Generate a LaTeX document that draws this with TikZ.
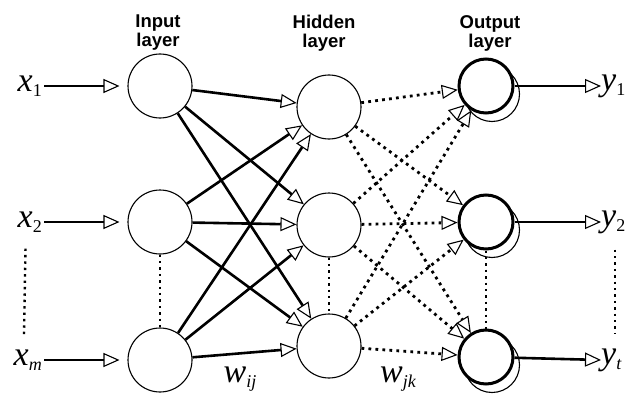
\documentclass[tikz,border=0pt]{standalone}
\usepackage{fontspec}
\newfontfamily\layerfont{Liberation Sans}
\newfontfamily\symfont{Liberation Serif}
\newcommand\varlab[2]{{\symfont\itshape #1}\raisebox{-0.15em}{\symfont\fontsize{18}{18}\selectfont #2}}
\usetikzlibrary{arrows.meta}
\begin{document}
\begin{tikzpicture}[x=1pt,y=-1pt,
    >={Triangle[open,length=16pt,width=14pt,line width=1.1pt]},
    neuron/.style={circle,draw,line width=1.1pt,minimum size=64pt,inner sep=0pt,fill=white},
    outneuron/.style={circle,draw,line width=3pt,minimum size=54pt,inner sep=0pt,fill=white},
    shadowring/.style={circle,draw,line width=1.1pt,minimum size=55pt,inner sep=0pt},
    wire/.style={->,line width=2.6pt},
    dotwire/.style={->,line width=2.8pt,dash pattern=on 2.8pt off 4.2pt},
    vdots/.style={line width=2.4pt,dash pattern=on 2.4pt off 4pt},
    title/.style={align=center,inner sep=0pt,font=\layerfont\bfseries\fontsize{18.5}{19}\selectfont},
    sym/.style={inner sep=0pt,font=\fontsize{34}{34}\selectfont}]
\useasboundingbox (0,0) rectangle (629,396);
\node[title] (tin) at (158,33) {Input\\layer};
\node[title] (thid) at (324,33) {Hidden\\layer};
\node[title] (tout) at (490,33) {Output\\layer};
\foreach \n/\y in {1/86,2/222,3/360}
    \node[neuron] (i\n) at (160,\y) {};
\foreach \n/\y in {1/107,2/225,3/346}
    \node[neuron] (h\n) at (329,\y) {};
\foreach \n/\y in {1/86,2/222,3/357}
{
    \node[shadowring] (s\n) at (492,{\y+8}) {};
    \node[outneuron] (o\n) at (486,\y) {};
}
\node[sym,anchor=east] (x1) at (42,86) {\varlab{x}{1}};
\node[sym,anchor=east] (x2) at (42,222) {\varlab{x}{2}};
\node[sym,anchor=east] (x3) at (42,360) {\varlab{x}{\itshape m}};
\node[sym,anchor=west] (y1) at (601,86) {\varlab{y}{1}};
\node[sym,anchor=west] (y2) at (601,222) {\varlab{y}{2}};
\node[sym,anchor=west] (y3) at (601,360) {\varlab{y}{\itshape t}};
\node[sym] (wij) at (240,379) {\varlab{w}{\itshape ij}};
\node[sym] (wjk) at (398,379) {\varlab{w}{\itshape jk}};
\foreach \n in {1,2,3}
{
    \draw[wire,shorten <=2pt,shorten >=8pt] (x\n.east) -- (i\n);
    \draw[wire] (o\n) -- (y\n.west);
\foreach \m in {1,2,3}
{
    \draw[wire] (i\n) -- (h\m);
    \draw[dotwire] (h\n) -- (o\m);
}
}
\draw[vdots] (i2) -- (i3);
\draw[vdots] (h2) -- (h3);
\draw[vdots] (o2) -- (o3);
\draw[vdots,shorten <=16pt,shorten >=14pt] ([xshift=-4pt]x2.south) -- ([xshift=-4pt]x3.north);
\draw[vdots,shorten <=16pt,shorten >=14pt] ([xshift=14pt]y2.south west) -- ([xshift=14pt]y3.north west);
\end{tikzpicture}
\end{document}
